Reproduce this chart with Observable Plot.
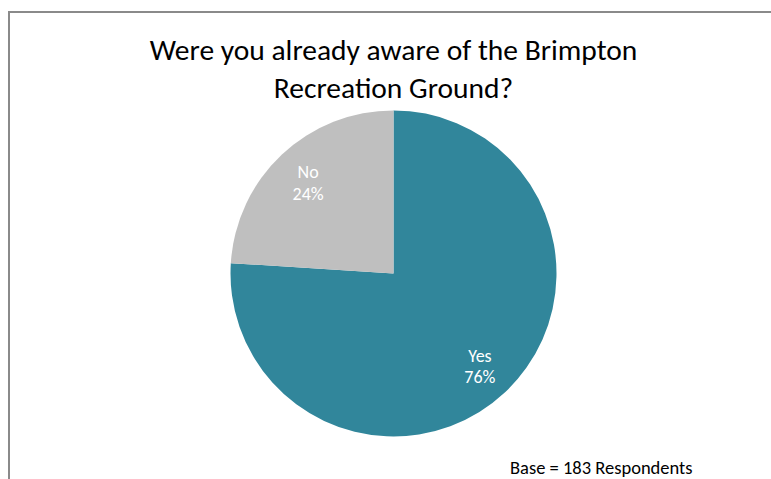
<!DOCTYPE html>
<html>
<head>
<meta charset="utf-8">
<script src="https://cdn.jsdelivr.net/npm/d3@7"></script>
<script src="https://cdn.jsdelivr.net/npm/@observablehq/plot@0.6"></script>
<style>
  html, body { margin: 0; padding: 0; background: #fff; }
  #wrap { position: relative; width: 771px; height: 479px; overflow: hidden; font-family: Calibri, Carlito, "Open Sans", sans-serif; }
  #frameTop { position: absolute; left: 8px; top: 11px; width: 800px; height: 2px; background: #8a8a8a; }
  #frameLeft { position: absolute; left: 8px; top: 11px; width: 2px; height: 500px; background: #8a8a8a; }
  #title { position: absolute; left: 0; width: 787px; top: 31px; text-align: center; font-size: 29.5px; line-height: 38px; color: #000; }
  #caption { position: absolute; left: 510px; top: 457px; font-size: 18.5px; line-height: 22px; color: #000; white-space: nowrap; }
  #chart { position: absolute; left: 0; top: 0; }
</style>
</head>
<body>
<div id="wrap">
  <div id="chart"></div>
  <div id="frameTop"></div>
  <div id="frameLeft"></div>
  <div id="title">Were you already aware of the Brimpton<br>Recreation Ground?</div>
  <div id="caption">Base = 183 Respondents</div>
</div>
<script>
const categories = ["Yes", "No"];
const percents = [76, 24];
const colors = ["#31869b", "#bfbfbf"];

const data = categories.map((c, i) => ({category: c, value: percents[i], color: colors[i]}));
const arcs = d3.pie().sort(null).value(d => d.value)(data);
const labelR = 0.77;
const labels = arcs.map(a => {
  const mid = (a.startAngle + a.endAngle) / 2;
  return {x: labelR * Math.sin(mid), y: labelR * Math.cos(mid), text: `${a.data.category}\n${a.data.value}%`};
});

const pieMark = (index, scales, values, dimensions, context) => {
  const cx = scales.x(0), cy = scales.y(0);
  const r = scales.x(1) - scales.x(0);
  const arcGen = d3.arc().innerRadius(0).outerRadius(r);
  const g = d3.create("svg:g").attr("transform", `translate(${cx},${cy})`);
  g.selectAll("path").data(arcs).join("path")
    .attr("d", arcGen)
    .attr("fill", d => d.data.color);
  return g.node();
};

const chart = Plot.plot({
  width: 771,
  height: 479,
  margin: 0,
  x: {domain: [-1, 1], range: [230.5, 556.5], axis: null},
  y: {domain: [-1, 1], range: [436.5, 110.3], axis: null},
  marks: [
    pieMark,
    Plot.text(labels, {
      x: "x", y: "y", text: "text",
      fill: "#ffffff", fontSize: 18, lineHeight: 1.22,
      fontFamily: "Calibri, Carlito, 'Open Sans', sans-serif"
    })
  ]
});
document.getElementById("chart").appendChild(chart);
</script>
</body>
</html>
